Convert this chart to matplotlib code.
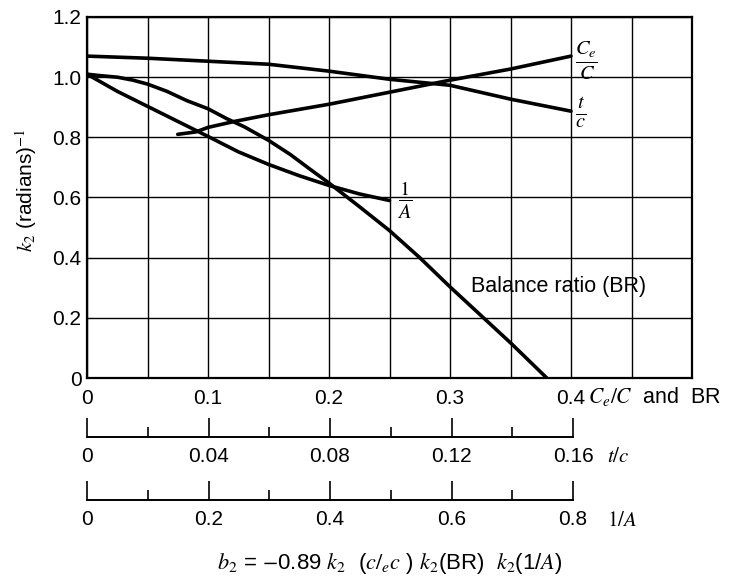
import numpy as np
import matplotlib
matplotlib.use('Agg')
import matplotlib.pyplot as plt
from matplotlib.ticker import MultipleLocator

plt.rcParams['font.family'] = ['Liberation Sans', 'DejaVu Sans']
plt.rcParams['mathtext.fontset'] = 'stix'

# curves, each in its own scale units
ce_x = [0.075, 0.09, 0.1, 0.122, 0.15, 0.2, 0.25, 0.3, 0.35, 0.4]
ce_y = [0.81, 0.818, 0.833, 0.853, 0.875, 0.91, 0.95, 0.99, 1.027, 1.07]

tc_x = [0, 0.02, 0.04, 0.06, 0.08, 0.10, 0.12, 0.14, 0.16]
tc_y = [1.07, 1.063, 1.053, 1.043, 1.02, 0.993, 0.973, 0.927, 0.887]

br_x = [0, 0.011, 0.025, 0.038, 0.05, 0.066, 0.0825, 0.1, 0.1155, 0.13, 0.15,
        0.168, 0.184, 0.2, 0.225, 0.25, 0.275, 0.3, 0.325, 0.35, 0.38]
br_y = [1.01, 1.005, 1.0, 0.99, 0.977, 0.953, 0.922, 0.895, 0.862, 0.835, 0.79,
        0.743, 0.695, 0.648, 0.57, 0.49, 0.40, 0.303, 0.21, 0.117, 0.0]

inva_x = [0, 0.05, 0.1, 0.15, 0.2, 0.25, 0.3, 0.35, 0.4, 0.45, 0.5]
inva_y = [1.01, 0.953, 0.903, 0.853, 0.803, 0.752, 0.71, 0.673, 0.64, 0.612, 0.59]

main_ticks = [0, 0.1, 0.2, 0.3, 0.4]
tc_ticks = [0, 0.04, 0.08, 0.12, 0.16]
inva_ticks = [0, 0.2, 0.4, 0.6, 0.8]

# t/c (0..0.16) and 1/A (0..0.8) share the Ce/C axis (0..0.4)
tc_scale = 0.4 / 0.16
inva_scale = 0.4 / 0.8

fig = plt.figure(figsize=(7.4, 5.82), dpi=100)
L, R = 87 / 740, 692 / 740
ax = fig.add_axes([L, 1 - 378 / 582, R - L, (378 - 17) / 582])

lw = 2.6
for xs, ys in [(ce_x, ce_y),
               (np.array(tc_x) * tc_scale, tc_y),
               (br_x, br_y),
               (np.array(inva_x) * inva_scale, inva_y)]:
    ax.plot(xs, ys, color='black', lw=lw, solid_capstyle='round', solid_joinstyle='round')

ax.set_xlim(0, 0.5)
ax.set_ylim(0, 1.2)
grid_x = np.round(np.arange(0, 0.501, 0.05), 2)
ax.set_xticks(grid_x)
ax.set_xticklabels(['0' if v == 0 else ('%g' % v if v in main_ticks else '') for v in grid_x])
ax.set_yticks([0, 0.2, 0.4, 0.6, 0.8, 1.0, 1.2])
ax.set_yticklabels(['0', '0.2', '0.4', '0.6', '0.8', '1.0', '1.2'])
ax.grid(True, color='black', lw=1.0)
ax.tick_params(length=0, labelsize=15, colors='black')
ax.tick_params(axis='x', pad=8)
ax.tick_params(axis='y', pad=4)
for s in ax.spines.values():
    s.set_linewidth(1.6)

# curve labels
ax.text(0.403, 1.058, r'$\frac{C_e}{C}$', fontsize=21, va='center', ha='left')
ax.text(0.403, 0.88, r'$\frac{t}{c}$', fontsize=21, va='center', ha='left')
ax.text(0.256, 0.59, r'$\frac{1}{A}$', fontsize=21, va='center', ha='left')
ax.text(0.317, 0.303, 'Balance ratio (BR)', fontsize=15.5, va='center', ha='left')

fig.text(588 / 740, 1 - 396 / 582, r'$C_e/C$  and  BR', fontsize=15.5, va='center', ha='left')
fig.text(26 / 740, 1 - 190 / 582, r'$k_2$ (radians)$^{-1}$', fontsize=15,
         rotation=90, va='center', ha='center')


def scale_axis(y_px, ticks, step, label):
    sa = fig.add_axes([L, 1 - y_px / 582, (573 - 87) / 740, 0.03])
    sa.patch.set_alpha(0)
    for k in ['left', 'right', 'top']:
        sa.spines[k].set_visible(False)
    sa.spines['bottom'].set_linewidth(1.4)
    sa.set_yticks([])
    sa.set_xlim(ticks[0], ticks[-1])
    sa.set_xticks(ticks)
    sa.set_xticklabels(['0'] + ['%g' % t for t in ticks[1:]])
    sa.xaxis.set_minor_locator(MultipleLocator(step))
    sa.tick_params(axis='x', which='major', direction='in', length=14, width=1.2,
                   labelsize=15, pad=7)
    sa.tick_params(axis='x', which='minor', direction='in', length=7, width=1.2)
    fig.text(607 / 740, 1 - (y_px + 20) / 582, label, fontsize=15, va='center', ha='left')
    return sa


scale_axis(437, tc_ticks, 0.02, r'$t/c$')
scale_axis(500, inva_ticks, 0.1, r'$1/A$')

fig.text(390 / 740, 1 - 563 / 582,
         r'$b_2$ = $-$0.89 $k_2$  ($c/_e c$ ) $k_2$(BR)  $k_2$(1/$A$)',
         fontsize=16, va='center', ha='center')

fig.savefig('out.png', dpi=100, facecolor='white')
